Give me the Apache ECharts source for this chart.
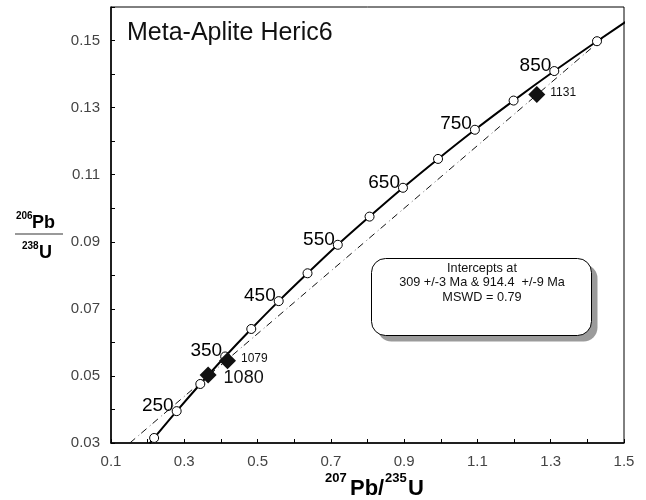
<!DOCTYPE html>
<html>
<head>
<meta charset="utf-8">
<script src="https://cdn.jsdelivr.net/npm/echarts@6/dist/echarts.min.js"></script>
<style>
  html, body { margin: 0; padding: 0; background: #fff; }
  #chart { width: 646px; height: 500px; }
</style>
</head>
<body>
<div id="chart"></div>
<script>
// Concordia curve (207Pb/235U, 206Pb/238U), sampled every 50 Ma from 190 to 950 Ma
const curveX = [0.2058, 0.2177, 0.2792, 0.3437, 0.4116, 0.4828, 0.5577, 0.6363, 0.7189, 0.8056, 0.8968, 0.9925, 1.0931, 1.1987, 1.3097, 1.4263, 1.5488];
const curveY = [0.0299, 0.0315, 0.0395, 0.0476, 0.0558, 0.0640, 0.0723, 0.0806, 0.0891, 0.0975, 0.1061, 0.1147, 0.1234, 0.1321, 0.1409, 0.1498, 0.1588];

// Age ticks along the concordia (open circles)
const markerAge = [200, 250, 300, 350, 400, 450, 500, 550, 600, 650, 700, 750, 800, 850, 900];
const markerX = [0.2177, 0.2792, 0.3437, 0.4116, 0.4828, 0.5577, 0.6363, 0.7189, 0.8056, 0.8968, 0.9925, 1.0931, 1.1987, 1.3097, 1.4263];
const markerY = [0.0315, 0.0395, 0.0476, 0.0558, 0.0640, 0.0723, 0.0806, 0.0891, 0.0975, 0.1061, 0.1147, 0.1234, 0.1321, 0.1409, 0.1498];
const labeledAges = [250, 350, 450, 550, 650, 750, 850];

// Analysed fractions
const sampleName = ['1080', '1079', '1131'];
const sampleX = [0.365, 0.418, 1.262];
const sampleY = [0.0503, 0.0545, 0.1339];

// Discordia: from the bottom of the plot up to the upper intercept (914.4 Ma)
const discordiaX = [0.1514, 1.4609];
const discordiaY = [0.0300, 0.1524];

// Axis ranges and tick labels
const xRange = [0.1, 1.5];
const yRange = [0.03, 0.16];
const xTickLabels = ['0.1', '0.3', '0.5', '0.7', '0.9', '1.1', '1.3', '1.5'];
const yTickLabels = ['0.03', '0.05', '0.07', '0.09', '0.11', '0.13', '0.15'];

const FONT = '"Liberation Sans", Arial, Helvetica, sans-serif';

const zip = (xs, ys) => xs.map((x, i) => [x, ys[i]]);

const chart = echarts.init(document.getElementById('chart'), null, { renderer: 'canvas' });

const sampleStyle = {
  '1080': { fontSize: 18, distance: 7, offset: [0, 3] },
  '1079': { fontSize: 12, distance: 5, offset: [0, -2] },
  '1131': { fontSize: 12, distance: 5, offset: [0, -2] }
};

const axisCommon = {
  type: 'value',
  axisLine: { show: true, onZero: false, lineStyle: { color: '#000', width: 1.5 } },
  axisTick: { show: true, inside: true, length: 4, lineStyle: { color: '#000', width: 1 } },
  splitLine: { show: false },
  minorTick: { show: false }
};

const option = {
  animation: false,
  backgroundColor: '#fff',
  grid: {
    left: 111, right: 22, top: 7, bottom: 57,
    show: true, borderColor: '#000', borderWidth: 1, backgroundColor: 'transparent'
  },
  xAxis: Object.assign({}, axisCommon, {
    min: xRange[0], max: xRange[1], interval: 0.1,
    axisLabel: {
      margin: 11, color: '#444', fontSize: 15, fontFamily: FONT,
      formatter: v => {
        const s = v.toFixed(1);
        return xTickLabels.includes(s) ? s : '';
      }
    }
  }),
  yAxis: Object.assign({}, axisCommon, {
    min: yRange[0], max: yRange[1], interval: 0.01,
    axisLabel: {
      margin: 11, color: '#444', fontSize: 15, fontFamily: FONT,
      formatter: v => {
        const s = v.toFixed(2);
        return yTickLabels.includes(s) ? s : '';
      }
    }
  }),
  series: [
    {
      name: 'discordia-dash',
      type: 'line',
      data: zip(discordiaX, discordiaY),
      symbol: 'none',
      lineStyle: { color: '#111', width: 1, type: [7, 8] },
      z: 2
    },
    {
      name: 'discordia-dot',
      type: 'line',
      data: zip(discordiaX, discordiaY),
      symbol: 'none',
      lineStyle: { color: '#999', width: 1, type: [1.5, 13.5], dashOffset: 4 },
      z: 2
    },
    {
      name: 'concordia',
      type: 'line',
      data: zip(curveX, curveY),
      symbol: 'none',
      smooth: 0.3,
      lineStyle: { color: '#000', width: 2 },
      z: 3
    },
    {
      name: 'ages',
      type: 'scatter',
      data: markerAge.map((a, i) => [markerX[i], markerY[i], a]),
      symbol: 'circle',
      symbolSize: 9,
      itemStyle: { color: '#fff', borderColor: '#000', borderWidth: 1, opacity: 1 },
      label: {
        show: true,
        position: [2, 9],
        align: 'right',
        verticalAlign: 'bottom',
        fontSize: 19,
        fontFamily: FONT,
        color: '#000',
        formatter: p => labeledAges.includes(p.value[2]) ? String(p.value[2]) : ''
      },
      z: 5
    },
    {
      name: 'samples',
      type: 'scatter',
      data: sampleName.map((n, i) => {
        const st = sampleStyle[n];
        return {
          name: n,
          value: [sampleX[i], sampleY[i]],
          label: { fontSize: st.fontSize, distance: st.distance, offset: st.offset }
        };
      }),
      symbol: 'diamond',
      symbolSize: 17,
      itemStyle: { color: '#111', opacity: 1 },
      label: {
        show: true,
        position: 'right',
        fontFamily: FONT,
        color: '#111',
        formatter: p => p.name
      },
      z: 6
    }
  ],
  graphic: [
    {
      type: 'text', x: 127, y: 33,
      style: { text: 'Meta-Aplite Heric6', font: '25px ' + FONT, fill: '#111', textAlign: 'left', textVerticalAlign: 'middle' }
    },
    // intercepts box with drop shadow
    {
      type: 'rect', shape: { x: 377.5, y: 264.5, width: 220, height: 77, r: 14 },
      style: { fill: '#9b9b9b' }, z: 10
    },
    {
      type: 'rect', shape: { x: 371.5, y: 258.5, width: 220, height: 77, r: 14 },
      style: { fill: '#fff', stroke: '#000', lineWidth: 1 }, z: 11
    },
    {
      type: 'text', x: 482, y: 268.5, z: 12,
      style: { text: 'Intercepts at', font: '12.7px ' + FONT, fill: '#111', textAlign: 'center', textVerticalAlign: 'middle' }
    },
    {
      type: 'text', x: 482, y: 282.5, z: 12,
      style: { text: '309 +/-3 Ma & 914.4  +/-9 Ma', font: '12.7px ' + FONT, fill: '#111', textAlign: 'center', textVerticalAlign: 'middle' }
    },
    {
      type: 'text', x: 482, y: 297, z: 12,
      style: { text: 'MSWD = 0.79', font: '12.7px ' + FONT, fill: '#111', textAlign: 'center', textVerticalAlign: 'middle' }
    },
    // y-axis title: 206Pb / 238U
    {
      type: 'text', x: 16, y: 216.5,
      style: { text: '206', font: 'bold 10px ' + FONT, fill: '#000', textAlign: 'left', textVerticalAlign: 'middle' }
    },
    {
      type: 'text', x: 32, y: 223.5,
      style: { text: 'Pb', font: 'bold 18px ' + FONT, fill: '#000', textAlign: 'left', textVerticalAlign: 'middle' }
    },
    {
      type: 'line', shape: { x1: 15, y1: 234, x2: 63, y2: 234 },
      style: { stroke: '#777', lineWidth: 1.5 }
    },
    {
      type: 'text', x: 22, y: 246.5,
      style: { text: '238', font: 'bold 10px ' + FONT, fill: '#000', textAlign: 'left', textVerticalAlign: 'middle' }
    },
    {
      type: 'text', x: 39, y: 253,
      style: { text: 'U', font: 'bold 18px ' + FONT, fill: '#000', textAlign: 'left', textVerticalAlign: 'middle' }
    },
    // x-axis title: 207Pb/235U
    {
      type: 'text', x: 325, y: 478,
      style: { text: '207', font: 'bold 13px ' + FONT, fill: '#000', textAlign: 'left', textVerticalAlign: 'middle' }
    },
    {
      type: 'text', x: 350, y: 488.5,
      style: { text: 'Pb/', font: 'bold 22px ' + FONT, fill: '#000', textAlign: 'left', textVerticalAlign: 'middle' }
    },
    {
      type: 'text', x: 385, y: 478,
      style: { text: '235', font: 'bold 13px ' + FONT, fill: '#000', textAlign: 'left', textVerticalAlign: 'middle' }
    },
    {
      type: 'text', x: 408, y: 488.5,
      style: { text: 'U', font: 'bold 22px ' + FONT, fill: '#000', textAlign: 'left', textVerticalAlign: 'middle' }
    }
  ]
};

chart.setOption(option);
</script>
</body>
</html>
